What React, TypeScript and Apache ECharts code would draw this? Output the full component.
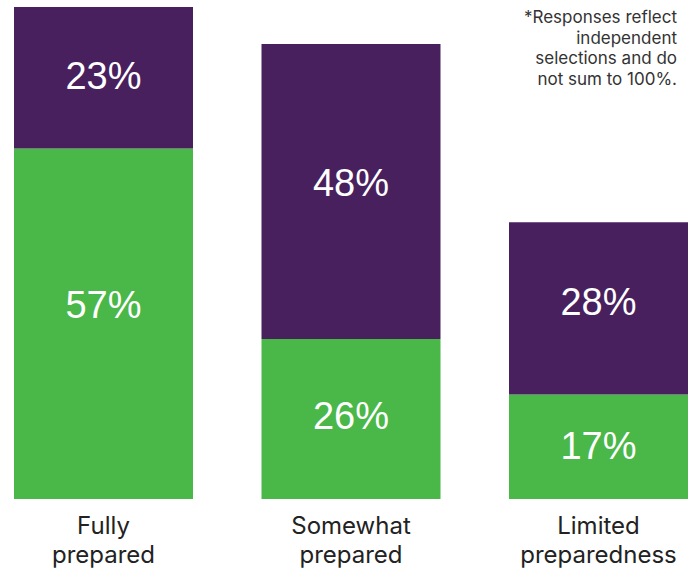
import React, { useEffect, useRef } from "react";
import * as echarts from "echarts";

const categories = ["Fully\nprepared", "Somewhat\nprepared", "Limited\npreparedness"];
const greenValues = [57, 26, 17];
const purpleValues = [23, 48, 28];
const noteLines = [
  "*Responses reflect",
  "independent",
  "selections and do",
  "not sum to 100%.",
];

const GREEN = "#4AB749";
const PURPLE = "#48205E";
const FONT = "'Liberation Sans', Arial, sans-serif";
const FONT2 = "Inter, 'Liberation Sans', Arial, sans-serif";

const greenNudge = [-19, -3, -1];
const purpleNudge = [-2, -9, -6];

export default function App() {
  const ref = useRef<HTMLDivElement>(null);
  useEffect(() => {
    if (!ref.current) return;
    const chart = echarts.init(ref.current, null, { renderer: "svg" });
    const labelBase = {
      show: true,
      position: "inside",
      color: "#ffffff",
      fontSize: 38,
      fontFamily: FONT,
      formatter: (p: any) => p.value + "%",
    };
    chart.setOption({
      animation: false,
      backgroundColor: "#ffffff",
      grid: {
        left: -20.25,
        right: -28.25,
        top: 7,
        bottom: 72,
        containLabel: false,
        outerBoundsMode: "none",
      },
      xAxis: {
        type: "category",
        data: categories,
        axisLine: { show: false },
        axisTick: { show: false },
        splitLine: { show: false },
        axisLabel: {
          interval: 0,
          margin: 12,
          fontSize: 24,
          lineHeight: 29,
          color: "#222222",
          fontFamily: FONT2,
        },
      },
      yAxis: { type: "value", min: 0, max: 80, show: false },
      series: [
        {
          type: "bar",
          stack: "total",
          barWidth: 179,
          itemStyle: { color: GREEN },
          label: labelBase,
          data: greenValues.map((v, i) => ({ value: v, label: { offset: [0, greenNudge[i]] } })),
        },
        {
          type: "bar",
          stack: "total",
          barWidth: 179,
          itemStyle: { color: PURPLE },
          label: labelBase,
          data: purpleValues.map((v, i) => ({ value: v, label: { offset: [0, purpleNudge[i]] } })),
        },
      ],
      graphic: [
        {
          type: "text",
          right: 17,
          top: 7,
          style: {
            text: noteLines.join("\n"),
            fill: "#333333",
            font: `17px ${FONT2}`,
            textAlign: "right",
            lineHeight: 20.5,
          },
        },
      ],
    });
    return () => chart.dispose();
  }, []);
  return (
    <div
      ref={ref}
      style={{ position: "fixed", left: 0, top: 0, width: 694, height: 571 }}
    />
  );
}
